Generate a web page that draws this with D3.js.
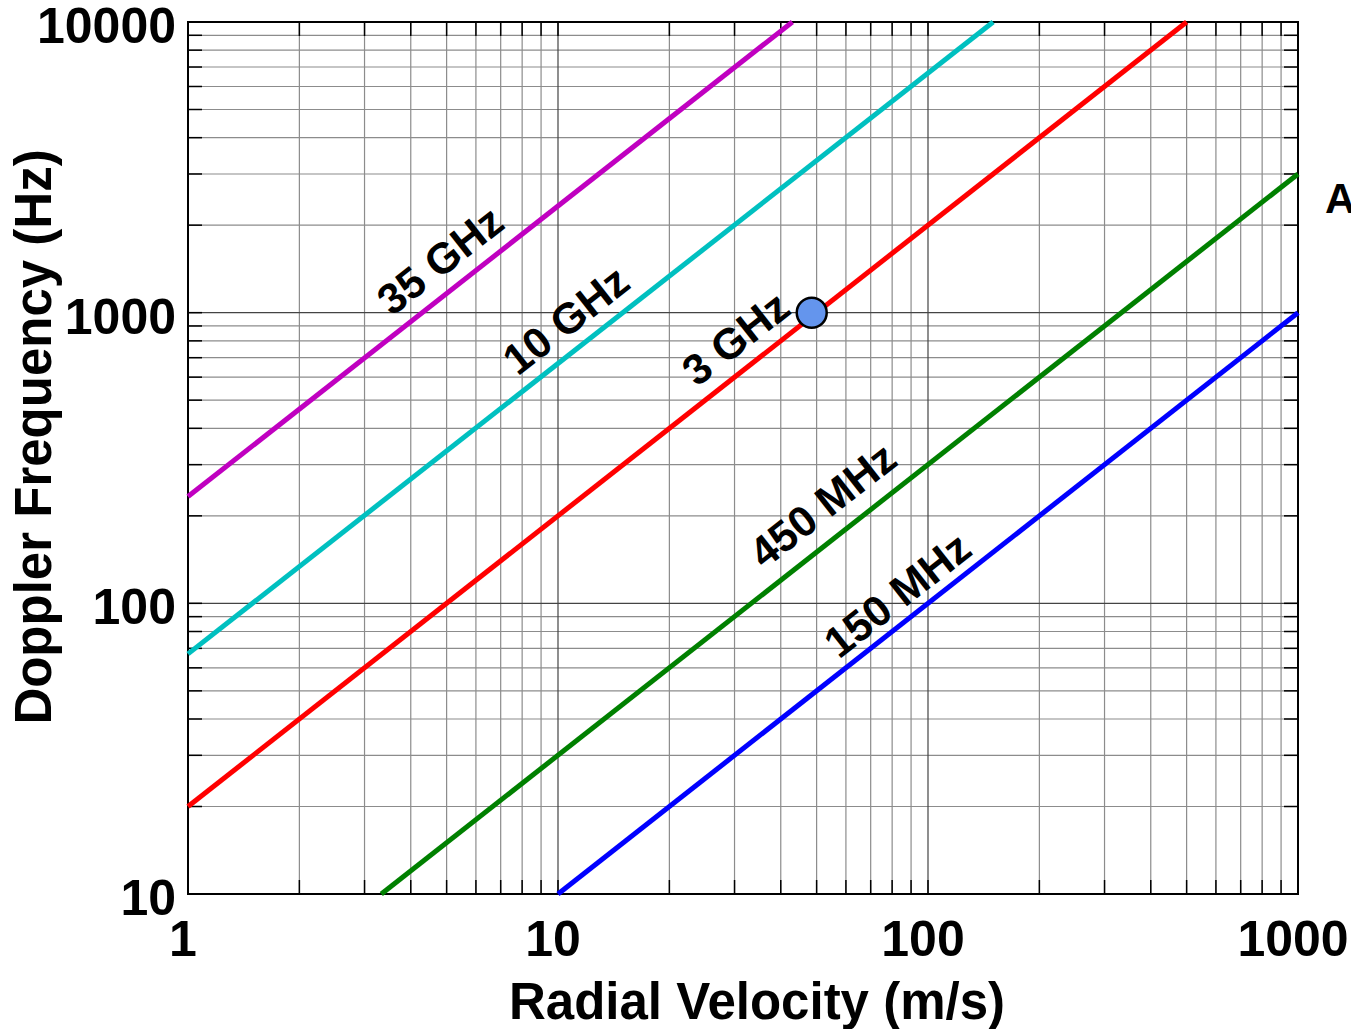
<!DOCTYPE html>
<html>
<head>
<meta charset="utf-8">
<script src="https://cdn.jsdelivr.net/npm/d3@7"></script>
<style>
  body { margin: 0; background: #fff; overflow: hidden; }
  text { font-family: "Liberation Sans", Arial, sans-serif; font-weight: bold; fill: #000; }
</style>
</head>
<body>
<svg id="chart"></svg>
<script>
// Values
const bandNames = ["35 GHz", "10 GHz", "3 GHz", "450 MHz", "150 MHz"];
const startVelocity = [1, 1, 1, 3.33, 10];
const startFreq = [233, 67, 20, 10, 10];
const endVelocity = [43, 150, 500, 1000, 1000];
const endFreq = [10000, 10000, 10000, 3000, 1000];
const labelVelocity = [4.8, 10.5, 30.2, 51.9, 82.6];
const labelFreq = [1517, 944, 817, 218, 107];
const markerPoint = [48.5, 1000];
const xTickValues = [1, 10, 100, 1000];
const yTickValues = [10, 100, 1000, 10000];

const bandColors = ["#c000c0", "#00c0c0", "#ff0000", "#008000", "#0000ff"];

const W = 1351, H = 1029;
const margin = { top: 22, right: 53, bottom: 135, left: 188 };
const width = W - margin.left - margin.right;
const height = H - margin.top - margin.bottom;

const svg = d3.select("#chart").attr("width", W).attr("height", H);
const g = svg.append("g").attr("transform", `translate(${margin.left},${margin.top})`);

const x = d3.scaleLog().domain([1, 1000]).range([0, width]);
const y = d3.scaleLog().domain([10, 10000]).range([height, 0]);

// minor / major grid values
const minorX = [], minorY = [];
for (let d = 1; d < 1000; d *= 10) for (let k = 2; k <= 9; k++) minorX.push(d * k);
for (let d = 10; d < 10000; d *= 10) for (let k = 2; k <= 9; k++) minorY.push(d * k);

g.selectAll(".gx").data(minorX).enter().append("line")
  .attr("x1", d => x(d)).attr("x2", d => x(d)).attr("y1", 0).attr("y2", height)
  .attr("stroke", "#8c8c8c").attr("stroke-width", 1.2);
g.selectAll(".gy").data(minorY).enter().append("line")
  .attr("y1", d => y(d)).attr("y2", d => y(d)).attr("x1", 0).attr("x2", width)
  .attr("stroke", "#8c8c8c").attr("stroke-width", 1.2);
g.selectAll(".gxm").data(xTickValues).enter().append("line")
  .attr("x1", d => x(d)).attr("x2", d => x(d)).attr("y1", 0).attr("y2", height)
  .attr("stroke", "#444").attr("stroke-width", 1.2);
g.selectAll(".gym").data(yTickValues).enter().append("line")
  .attr("y1", d => y(d)).attr("y2", d => y(d)).attr("x1", 0).attr("x2", width)
  .attr("stroke", "#444").attr("stroke-width", 1.2);

// inward ticks on all four sides
const allX = minorX.concat(xTickValues), allY = minorY.concat(yTickValues);
const tickLen = 14;
g.selectAll(".tb").data(allX).enter().append("line")
  .attr("x1", d => x(d)).attr("x2", d => x(d)).attr("y1", height).attr("y2", height - tickLen)
  .attr("stroke", "#000").attr("stroke-width", 1.5);
g.selectAll(".tt").data(allX).enter().append("line")
  .attr("x1", d => x(d)).attr("x2", d => x(d)).attr("y1", 0).attr("y2", tickLen)
  .attr("stroke", "#000").attr("stroke-width", 1.5);
g.selectAll(".tl").data(allY).enter().append("line")
  .attr("y1", d => y(d)).attr("y2", d => y(d)).attr("x1", 0).attr("x2", tickLen)
  .attr("stroke", "#000").attr("stroke-width", 1.5);
g.selectAll(".tr").data(allY).enter().append("line")
  .attr("y1", d => y(d)).attr("y2", d => y(d)).attr("x1", width).attr("x2", width - tickLen)
  .attr("stroke", "#000").attr("stroke-width", 1.5);

// frame
g.append("rect").attr("width", width).attr("height", height)
  .attr("fill", "none").attr("stroke", "#000").attr("stroke-width", 2);

// tick labels
g.selectAll(".xl").data(xTickValues).enter().append("text")
  .attr("x", d => x(d) - 5).attr("y", height + 62)
  .attr("text-anchor", "middle").attr("font-size", 50)
  .text(d => d);
g.selectAll(".yl").data(yTickValues).enter().append("text")
  .attr("x", -12).attr("y", d => y(d) + 21)
  .attr("text-anchor", "end").attr("font-size", 50)
  .text(d => d);

// axis titles
svg.append("text")
  .attr("x", margin.left + width / 2 + 14).attr("y", 1019)
  .attr("text-anchor", "middle").attr("font-size", 51)
  .text("Radial Velocity (m/s)");
svg.append("text")
  .attr("transform", `translate(51,${437}) rotate(-90)`)
  .attr("text-anchor", "middle").attr("font-size", 51)
  .text("Doppler Frequency (Hz)");

// band lines
const bands = bandNames.map((name, i) => ({
  name,
  pts: [[startVelocity[i], startFreq[i]], [endVelocity[i], endFreq[i]]],
  lv: labelVelocity[i], lf: labelFreq[i],
  color: bandColors[i]
}));

const line = d3.line().x(d => x(d[0])).y(d => y(d[1]));
g.selectAll(".band").data(bands).enter().append("path")
  .attr("d", d => line(d.pts))
  .attr("fill", "none").attr("stroke", d => d.color).attr("stroke-width", 5);

// slope of a 1:1 line in pixel space
const angle = Math.atan2(y(10) - y(100), x(10) - x(1)) * 180 / Math.PI;
g.selectAll(".blabel").data(bands).enter().append("text")
  .attr("transform", d => `translate(${x(d.lv)},${y(d.lf)}) rotate(${-angle})`)
  .attr("text-anchor", "middle").attr("dy", "0.35em").attr("font-size", 43)
  .text(d => d.name);

// marker on the 3 GHz line
g.append("circle")
  .attr("cx", x(markerPoint[0])).attr("cy", y(markerPoint[1])).attr("r", 15)
  .attr("fill", "#6495ed").attr("stroke", "#000").attr("stroke-width", 2.5);

// letter at the right edge, cut by the page like in the reference
svg.append("text").attr("x", 1325).attr("y", 213).attr("font-size", 42).text("A");
</script>
</body>
</html>
